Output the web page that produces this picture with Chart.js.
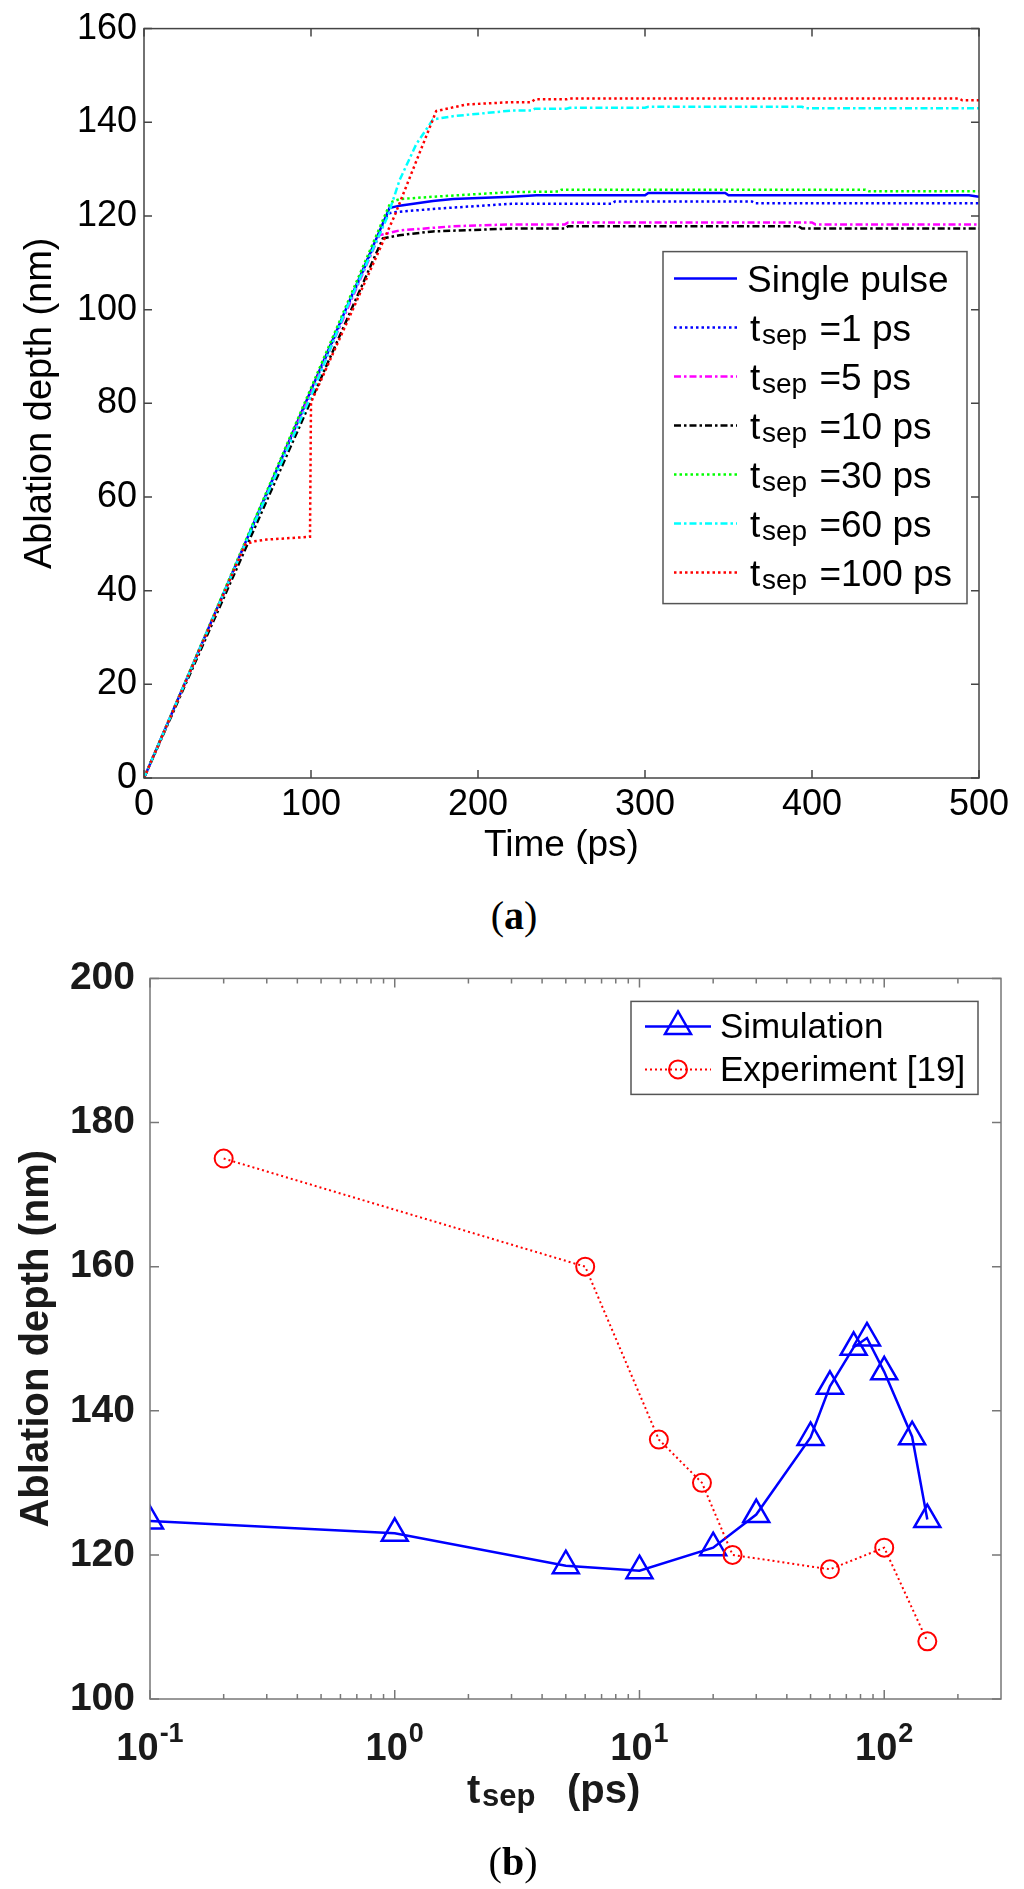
<!DOCTYPE html>
<html>
<head>
<meta charset="utf-8">
<script src="https://cdn.jsdelivr.net/npm/chart.js@4.4.1/dist/chart.umd.min.js"></script>
<style>
  html, body { margin: 0; padding: 0; background: #fff; }
  body { width: 1024px; height: 1889px; position: relative; overflow: hidden; }
  #ca { position: absolute; left: 0; top: 0; }
  #cb { position: absolute; left: 0; top: 940px; }
  .cap { position: absolute; width: 120px; text-align: center; height: 44px; line-height: 44px;
         font-family: "Liberation Serif", "Times New Roman", serif; font-size: 40px; color: #000; }
</style>
</head>
<body>
<canvas id="ca" width="1024" height="880"></canvas>
<div class="cap" style="left:454px; top:894px;">(<b>a</b>)</div>
<canvas id="cb" width="1024" height="949"></canvas>
<div class="cap" style="left:453px; top:1840px;">(<b>b</b>)</div>
<script>
// ---------------- DATA: chart (a) ----------------
const timeTicks = [0, 100, 200, 300, 400, 500];
const depthTicksA = [0, 20, 40, 60, 80, 100, 120, 140, 160];
const labelsA = ['Single pulse', 'tsep =1 ps', 'tsep =5 ps', 'tsep =10 ps', 'tsep =30 ps', 'tsep =60 ps', 'tsep =100 ps'];

const tSingle = [0, 147, 153, 173, 185, 220, 235, 300, 302, 348, 350, 494, 500];
const dSingle = [0, 121.7, 122.2, 123.2, 123.6, 124.1, 124.4, 124.4, 124.9, 124.9, 124.4, 124.4, 124.1];
const t1 = [0, 146, 150, 173, 220, 280, 282, 364, 366, 500];
const d1 = [0, 120.5, 120.8, 121.5, 122.6, 122.6, 123.1, 123.1, 122.7, 122.7];
const t5 = [0, 141, 153, 185, 220, 252, 254, 400, 402, 500];
const d5 = [0, 115.9, 116.9, 117.8, 118.2, 118.2, 118.6, 118.6, 118.2, 118.2];
const t10 = [0, 143, 153, 173, 220, 252, 254, 392, 394, 500];
const d10 = [0, 115.2, 115.9, 116.7, 117.3, 117.3, 117.8, 117.8, 117.3, 117.3];
const t30 = [0, 147.6, 153, 173, 220, 248, 250, 432, 434, 500];
const d30 = [0, 122.9, 123.6, 124.1, 125.1, 125.2, 125.6, 125.6, 125.3, 125.3];
const t60 = [0, 60, 100, 121, 146, 153, 163, 173, 185, 220, 232, 234, 253, 255, 300, 302, 394, 396, 500];
const d60 = [0, 49.5, 81.5, 100, 120, 127.6, 135.3, 140.6, 141.3, 142.5, 142.5, 142.9, 142.9, 143.1, 143.1, 143.3, 143.3, 143.0, 143.0];
const t100 = [0, 60.5, 65.5, 73.5, 99.4, 100, 125, 150, 175, 193, 220, 232, 234, 253, 255, 488, 490, 500];
const d100 = [0, 49.8, 50.5, 50.9, 51.5, 80.2, 100, 120, 142.4, 143.8, 144.3, 144.3, 144.9, 144.9, 145.1, 145.1, 144.7, 144.7];

// ---------------- DATA: chart (b) ----------------
const depthTicksB = [100, 120, 140, 160, 180, 200];
const decadeTicksB = [0.1, 1, 10, 100];
const decadeExpB = ['-1', '0', '1', '2'];
const minorTicksB = [0.2, 0.3, 0.4, 0.5, 0.6, 0.7, 0.8, 0.9, 2, 3, 4, 5, 6, 7, 8, 9, 20, 30, 40, 50, 60, 70, 80, 90, 200];
const labelsB = ['Simulation', 'Experiment [19]'];
const simX = [0.1, 1, 5, 10, 20, 30, 50, 60, 75, 85, 100, 130, 150];
const simY = [124.7, 123.0, 118.5, 117.8, 121.0, 125.6, 136.3, 143.4, 148.8, 150.1, 145.4, 136.4, 124.9];
const expX = [0.2, 6, 12, 18, 24, 60, 100, 150];
const expY = [175, 160, 136, 130, 120, 118, 121, 108];

// ---------------- STYLES ----------------
const FONT = '"Liberation Sans", Arial, Helvetica, sans-serif';
const DOT = [2.5, 3];
const DASHDOT = [7, 3, 2.5, 3];
const colorsA = ['#0000ff', '#0000ff', '#ff00ff', '#000000', '#00ff00', '#00ffff', '#ff0000'];
const dashesA = [[], DOT, DASHDOT, DASHDOT, DOT, DASHDOT, DOT];
const seriesT = [tSingle, t1, t5, t10, t30, t60, t100];
const seriesD = [dSingle, d1, d5, d10, d30, d60, d100];

function pts(xs, ys) { return xs.map((x, i) => ({ x: x, y: ys[i] })); }

function framePlugin(id, cfg) {
  return {
    id: id,
    afterDatasetsDraw(chart) {
      const { ctx, chartArea: a } = chart;
      const xs = chart.scales.x, ys = chart.scales.y;
      ctx.save();
      ctx.strokeStyle = cfg.color;
      ctx.lineWidth = cfg.lw;
      ctx.setLineDash([]);
      ctx.strokeRect(a.left, a.top, a.right - a.left, a.bottom - a.top);
      ctx.beginPath();
      const xt = (list, len) => list.forEach(v => {
        const p = xs.getPixelForValue(v);
        ctx.moveTo(p, a.bottom); ctx.lineTo(p, a.bottom - len);
        ctx.moveTo(p, a.top); ctx.lineTo(p, a.top + len);
      });
      xt(cfg.xMajor, cfg.len);
      if (cfg.xMinor) xt(cfg.xMinor, cfg.minorLen);
      cfg.yMajor.forEach(v => {
        const p = ys.getPixelForValue(v);
        ctx.moveTo(a.left, p); ctx.lineTo(a.left + cfg.len, p);
        ctx.moveTo(a.right, p); ctx.lineTo(a.right - cfg.len, p);
      });
      ctx.stroke();
      ctx.restore();
    }
  };
}

function drawLabel(ctx, label, x, base, size, subSize, subDy, weight) {
  const w = weight ? weight + ' ' : '';
  if (label.indexOf('tsep') === 0) {
    ctx.font = w + size + 'px ' + FONT;
    ctx.fillText('t', x + 3, base);
    ctx.font = w + subSize + 'px ' + FONT;
    ctx.fillText('sep', x + 15, base + subDy);
    const sw = ctx.measureText('sep').width;
    ctx.font = w + size + 'px ' + FONT;
    ctx.fillText(label.slice(4), x + 17 + sw, base);
  } else {
    ctx.font = w + size + 'px ' + FONT;
    ctx.fillText(label, x, base);
  }
}

const legendA = {
  id: 'legendA',
  afterDraw(chart) {
    const { ctx, chartArea: a } = chart;
    const bx = a.right - 316, by = a.top + 223, bw = 304, bh = 352;
    ctx.save();
    ctx.fillStyle = '#fff';
    ctx.fillRect(bx, by, bw, bh);
    ctx.strokeStyle = '#555';
    ctx.lineWidth = 1.5;
    ctx.strokeRect(bx, by, bw, bh);
    chart.data.datasets.forEach((ds, i) => {
      const cy = by + 27 + i * 49;
      ctx.strokeStyle = ds.borderColor;
      ctx.lineWidth = ds.borderWidth;
      ctx.setLineDash(ds.borderDash || []);
      ctx.beginPath();
      ctx.moveTo(bx + 11, cy); ctx.lineTo(bx + 74, cy);
      ctx.stroke();
      ctx.setLineDash([]);
      ctx.fillStyle = '#000';
      ctx.textAlign = 'left';
      ctx.textBaseline = 'alphabetic';
      drawLabel(ctx, ds.label, bx + 84, cy + 13, 37, 28, 3, '');
    });
    ctx.restore();
  }
};

const chartA = new Chart(document.getElementById('ca'), {
  type: 'line',
  data: {
    datasets: labelsA.map((lab, i) => ({
      label: lab,
      data: pts(seriesT[i], seriesD[i]),
      borderColor: colorsA[i],
      borderDash: dashesA[i],
      borderWidth: 2.5,
      pointRadius: 0,
      tension: 0,
      fill: false,
      order: labelsA.length - i
    }))
  },
  options: {
    responsive: false,
    animation: false,
    devicePixelRatio: 1,
    layout: { padding: { left: 0, right: 45, top: 25, bottom: 0 } },
    plugins: { legend: { display: false }, tooltip: { enabled: false } },
    scales: {
      x: {
        type: 'linear', min: 0, max: 500,
        afterBuildTicks: s => { s.ticks = timeTicks.map(v => ({ value: v })); },
        afterFit: s => { s.height = 102; },
        grid: { display: false, drawTicks: false },
        border: { display: false },
        ticks: { font: { family: FONT, size: 36 }, color: '#000', padding: 5, maxRotation: 0, autoSkip: false },
        title: { display: true, text: 'Time (ps)', color: '#000', font: { family: FONT, size: 37 }, padding: { top: 0, bottom: 12 } }
      },
      y: {
        type: 'linear', min: 0, max: 160,
        afterBuildTicks: s => { s.ticks = depthTicksA.map(v => ({ value: v })); },
        afterFit: s => { s.width = 144; },
        grid: { display: false, drawTicks: false },
        border: { display: false },
        ticks: { font: { family: FONT, size: 36 }, color: '#000', padding: 7, autoSkip: false },
        title: { display: true, text: 'Ablation depth (nm)', color: '#000', font: { family: FONT, size: 38 }, padding: { top: 18, bottom: 0 } }
      }
    }
  },
  plugins: [framePlugin('frameA', { color: '#444', lw: 1.5, len: 8, xMajor: timeTicks, yMajor: depthTicksA }), legendA]
});

// ---------------- chart (b) ----------------
function drawTri(ctx, x, y, r) {
  ctx.beginPath();
  ctx.moveTo(x, y - r);
  ctx.lineTo(x + r * Math.sin(2 * Math.PI / 3), y - r * Math.cos(2 * Math.PI / 3));
  ctx.lineTo(x + r * Math.sin(4 * Math.PI / 3), y - r * Math.cos(4 * Math.PI / 3));
  ctx.closePath();
  ctx.stroke();
}

const extrasB = {
  id: 'extrasB',
  afterDraw(chart) {
    const { ctx, chartArea: a } = chart;
    const xs = chart.scales.x;
    ctx.save();
    ctx.fillStyle = '#1a1a1a';
    ctx.textAlign = 'left';
    ctx.textBaseline = 'alphabetic';
    // decade labels 10^n
    decadeTicksB.forEach((v, i) => {
      const px = xs.getPixelForValue(v);
      ctx.font = 'bold 38px ' + FONT;
      const w1 = ctx.measureText('10').width;
      ctx.font = 'bold 27px ' + FONT;
      const w2 = ctx.measureText(decadeExpB[i]).width;
      const x0 = px - (w1 + w2 + 1) / 2;
      ctx.font = 'bold 38px ' + FONT;
      ctx.fillText('10', x0, a.bottom + 61);
      ctx.font = 'bold 27px ' + FONT;
      ctx.fillText(decadeExpB[i], x0 + w1 + 1, a.bottom + 43);
    });
    // x title: t_sep (ps)
    const tx = a.left + 317, tb = a.bottom + 104;
    ctx.font = 'bold 40px ' + FONT;
    ctx.fillText('t', tx, tb);
    ctx.font = 'bold 31px ' + FONT;
    ctx.fillText('sep', tx + 15, tb + 3);
    ctx.font = 'bold 40px ' + FONT;
    ctx.fillText('(ps)', tx + 100, tb);

    // legend
    const bx = a.right - 370, by = a.top + 23, bw = 347, bh = 93;
    ctx.fillStyle = '#fff';
    ctx.fillRect(bx, by, bw, bh);
    ctx.strokeStyle = '#555';
    ctx.lineWidth = 1.5;
    ctx.strokeRect(bx, by, bw, bh);
    chart.data.datasets.forEach((ds, i) => {
      const cy = by + 25 + i * 43;
      ctx.strokeStyle = ds.borderColor;
      ctx.lineWidth = ds.borderWidth;
      ctx.setLineDash(ds.borderDash || []);
      ctx.beginPath();
      ctx.moveTo(bx + 14, cy); ctx.lineTo(bx + 80, cy);
      ctx.stroke();
      ctx.setLineDash([]);
      ctx.lineWidth = ds.pointBorderWidth;
      if (ds.pointStyle === 'triangle') {
        drawTri(ctx, bx + 47, cy, ds.pointRadius);
      } else {
        ctx.beginPath();
        ctx.arc(bx + 47, cy, ds.pointRadius, 0, 2 * Math.PI);
        ctx.stroke();
      }
      ctx.fillStyle = '#000';
      ctx.font = '35px ' + FONT;
      ctx.fillText(ds.label, bx + 89, cy + 12);
    });
    ctx.restore();
  }
};

const chartB = new Chart(document.getElementById('cb'), {
  type: 'line',
  data: {
    datasets: [
      {
        label: labelsB[0],
        data: pts(simX, simY),
        borderColor: '#0000ff',
        borderWidth: 2.5,
        pointStyle: 'triangle',
        pointRadius: 15,
        pointBorderWidth: 2.5,
        pointBorderColor: '#0000ff',
        pointBackgroundColor: 'rgba(0,0,0,0)',
        tension: 0,
        fill: false,
        order: 1
      },
      {
        label: labelsB[1],
        data: pts(expX, expY),
        borderColor: '#ff0000',
        borderDash: [2, 3],
        borderWidth: 2,
        pointStyle: 'circle',
        pointRadius: 9,
        pointBorderWidth: 2,
        pointBorderColor: '#ff0000',
        pointBackgroundColor: 'rgba(0,0,0,0)',
        tension: 0,
        fill: false,
        order: 0
      }
    ]
  },
  options: {
    responsive: false,
    animation: false,
    devicePixelRatio: 1,
    layout: { padding: { left: 0, right: 23, top: 35, bottom: 0 } },
    plugins: { legend: { display: false }, tooltip: { enabled: false } },
    scales: {
      x: {
        type: 'logarithmic', min: 0.1, max: 300,
        afterBuildTicks: s => { s.ticks = decadeTicksB.map(v => ({ value: v })); },
        afterFit: s => { s.height = 190; },
        grid: { display: false, drawTicks: false },
        border: { display: false },
        ticks: { display: false }
      },
      y: {
        type: 'linear', min: 100, max: 200,
        afterBuildTicks: s => { s.ticks = depthTicksB.map(v => ({ value: v })); },
        afterFit: s => { s.width = 150; },
        grid: { display: false, drawTicks: false },
        border: { display: false },
        ticks: { font: { family: FONT, size: 39, weight: 'bold' }, color: '#1a1a1a', padding: 15, autoSkip: false },
        title: { display: true, text: 'Ablation depth (nm)', color: '#1a1a1a', font: { family: FONT, size: 40, weight: 'bold' }, padding: { top: 13, bottom: 0 } }
      }
    }
  },
  plugins: [framePlugin('frameB', { color: '#777', lw: 1.5, len: 9, minorLen: 5, xMajor: decadeTicksB, xMinor: minorTicksB, yMajor: depthTicksB }), extrasB]
});
</script>
</body>
</html>
